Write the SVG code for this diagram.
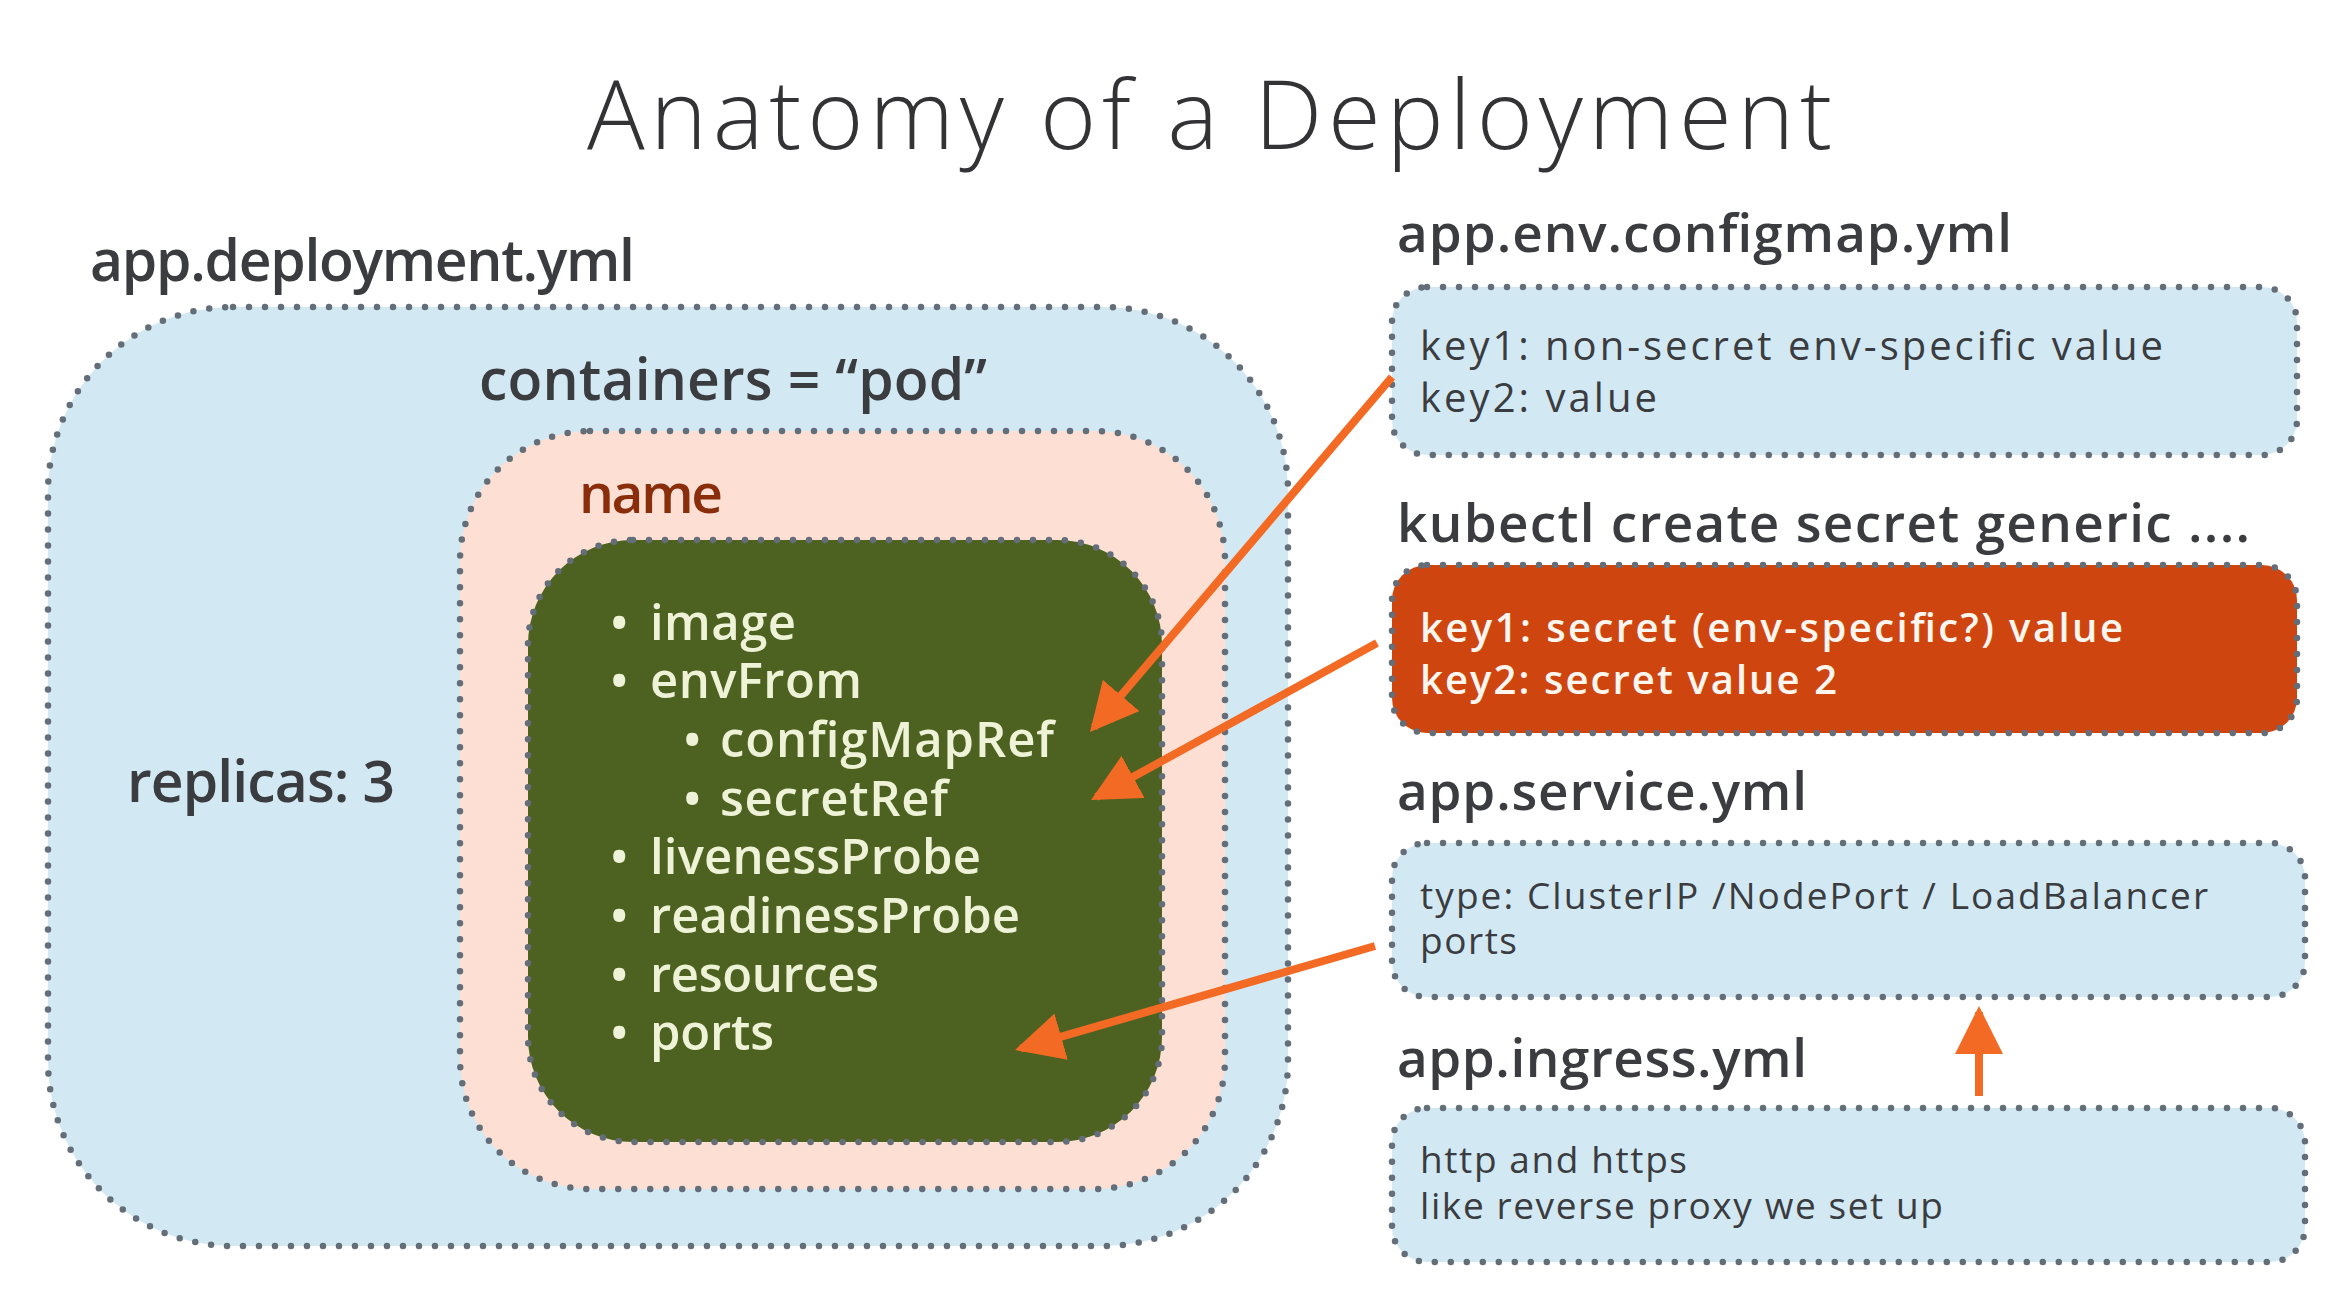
<svg xmlns="http://www.w3.org/2000/svg" width="2346" height="1299" viewBox="0 0 2346 1299">
<defs>
<style>
.dot{stroke:#646e78;stroke-width:6.5;stroke-dasharray:0 16;stroke-linecap:round;}
.blue{fill:#d2e9f4;}
.pink{fill:#fddfd4;}
.green{fill:#4d6221;}
.red{fill:#cf450f;}
.t{font-family:"Open Sans","Liberation Sans",sans-serif;}
.title{font-size:96px;font-weight:300;fill:#333335;}
.h{font-size:57px;font-weight:600;fill:#3b3c3f;}
.hr{font-size:53px;font-weight:600;fill:#3b3c3f;}
.name{font-size:55px;font-weight:600;fill:#8a2d0b;}
.li{font-size:49px;font-weight:600;fill:#eef2d6;}
.k{font-size:40px;font-weight:500;fill:#3b3c3f;}
.kw{font-size:40px;font-weight:600;fill:#fff6ef;}
.s{font-size:37px;font-weight:500;fill:#3b3c3f;}
.arrow{stroke:#f36a24;stroke-width:8;fill:none;}
</style>
<marker id="ah" markerUnits="userSpaceOnUse" markerWidth="48" markerHeight="48" refX="42" refY="24" orient="auto" viewBox="0 0 48 48">
<path d="M0,0 L48,24 L0,48 Z" fill="#f36a24"/>
</marker>
</defs>
<rect width="2346" height="1299" fill="#ffffff"/>
<g id="title">
<text class="t title" x="587" y="149" textLength="1245">Anatomy of a Deployment</text>
</g>
<g id="deployment">
<text class="t h" x="90" y="281" textLength="545">app.deployment.yml</text>
<rect class="blue dot" x="48" y="307" width="1240" height="939" rx="185" ry="185"/>
<text class="t h" x="127" y="802" textLength="268">replicas: 3</text>
</g>
<g id="containers">
<text class="t h" x="479" y="400" textLength="508">containers = “pod”</text>
<rect class="pink dot" x="460" y="431" width="765" height="758" rx="130" ry="130"/>
<text class="t name" x="579" y="513" textLength="144">name</text>
</g>
<g id="container-spec">
<rect class="green dot" x="528" y="540" width="634" height="602" rx="105" ry="105"/>
<text class="t li" y="640"><tspan x="610">•</tspan><tspan x="650" textLength="146">image</tspan></text>
<text class="t li" y="698"><tspan x="610">•</tspan><tspan x="650" textLength="212">envFrom</tspan></text>
<text class="t li" y="757"><tspan x="683">•</tspan><tspan x="720" textLength="334">configMapRef</tspan></text>
<text class="t li" y="816"><tspan x="683">•</tspan><tspan x="720" textLength="228">secretRef</tspan></text>
<text class="t li" y="874"><tspan x="610">•</tspan><tspan x="650" textLength="331">livenessProbe</tspan></text>
<text class="t li" y="933"><tspan x="610">•</tspan><tspan x="650" textLength="370">readinessProbe</tspan></text>
<text class="t li" y="992"><tspan x="610">•</tspan><tspan x="650" textLength="229">resources</tspan></text>
<text class="t li" y="1050"><tspan x="610">•</tspan><tspan x="650" textLength="124">ports</tspan></text>
</g>
<g id="configmap">
<text class="t hr" x="1397" y="252" textLength="615">app.env.configmap.yml</text>
<rect class="blue dot" x="1392" y="287" width="905" height="168" rx="35" ry="35"/>
<text class="t k" x="1420" y="360" textLength="743">key1: non-secret env-specific value</text>
<text class="t k" x="1420" y="412" textLength="237">key2: value</text>
</g>
<g id="secret">
<text class="t hr" x="1397" y="542" textLength="853">kubectl create secret generic ....</text>
<rect class="red dot" x="1392" y="565" width="905" height="168" rx="35" ry="35"/>
<text class="t kw" x="1420" y="642" textLength="703">key1: secret (env-specific?) value</text>
<text class="t kw" x="1420" y="694" textLength="417">key2: secret value 2</text>
</g>
<g id="service">
<text class="t hr" x="1397" y="810" textLength="410">app.service.yml</text>
<rect class="blue dot" x="1392" y="843" width="913" height="154" rx="35" ry="35"/>
<text class="t s" x="1420" y="909" textLength="788">type: ClusterIP /NodePort / LoadBalancer</text>
<text class="t s" x="1420" y="954" textLength="97">ports</text>
</g>
<g id="ingress">
<text class="t hr" x="1397" y="1077" textLength="410">app.ingress.yml</text>
<rect class="blue dot" x="1392" y="1108" width="913" height="154" rx="35" ry="35"/>
<text class="t s" x="1420" y="1173" textLength="267">http and https</text>
<text class="t s" x="1420" y="1219" textLength="523">like reverse proxy we set up</text>
</g>
<g id="connectors">
<line class="arrow" x1="1392" y1="377" x2="1093.9" y2="727.4" marker-end="url(#ah)"/>
<line class="arrow" x1="1377" y1="643" x2="1096.3" y2="797.1" marker-end="url(#ah)"/>
<line class="arrow" x1="1375" y1="946" x2="1020.8" y2="1048.3" marker-end="url(#ah)"/>
<line class="arrow" x1="1979" y1="1096" x2="1979" y2="1012" marker-end="url(#ah)"/>
</g>
</svg>
